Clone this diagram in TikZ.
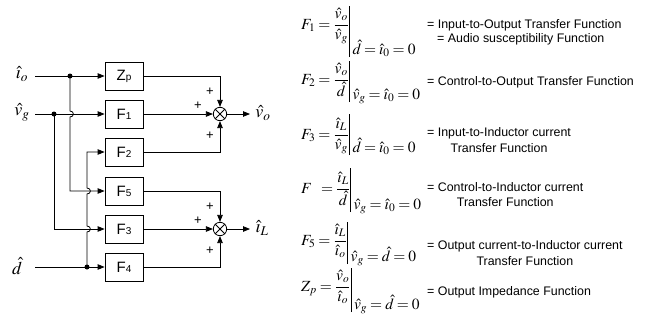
\documentclass[tikz,border=0pt]{standalone}
\usepackage{mathptmx}
\usepackage{fontspec}
\setmainfont{Liberation Serif}
\newfontfamily\arial{Liberation Sans}
\usetikzlibrary{arrows.meta,calc}
\newcommand{\bx}[2]{#1{\fontsize{10}{10}\selectfont #2}}
\newcommand{\dfr}[2]{{\displaystyle\frac{#1}{#2}}}
\thickmuskip=3.5mu\relax
\begin{document}
\begin{tikzpicture}[x=1pt,y=-1pt,
  blk/.style={draw,line width=0.8pt,minimum width=38pt,minimum height=28pt,inner sep=0pt,font=\arial\fontsize{15}{15}\selectfont},
  sig/.style={line width=0.8pt},
  arr/.style={sig,-{Triangle[length=7pt,width=5.5pt]}},
  sum/.style={draw,circle,line width=0.8pt,minimum size=13.4pt,inner sep=0pt},
  dot/.style={circle,fill,inner sep=0pt,minimum size=5pt},
  lab/.style={font=\fontsize{18}{18}\selectfont,inner sep=0pt},
  pm/.style={font=\arial\fontsize{13}{13}\selectfont,inner sep=0pt},
  eq/.style={font=\fontsize{15.5}{18}\selectfont,inner sep=0pt,anchor=base west},
  desc/.style={font=\arial\fontsize{12.4}{14}\selectfont,inner sep=0pt,anchor=west},
  ctr/.style={font=\arial\fontsize{12.4}{14}\selectfont,inner sep=0pt},
]
\useasboundingbox (0,0) rectangle (654,322);
% blocks
\node[blk] (Zp) at (124,76) {\bx{Z}{p}};
\node[blk] (F1) at (124,114) {\bx{F}{1}};
\node[blk] (F2) at (124,152) {\bx{F}{2}};
\node[blk] (F5) at (124,191) {\bx{F}{5}};
\node[blk] (F3) at (124,229) {\bx{F}{3}};
\node[blk] (F4) at (124,267) {\bx{F}{4}};
% inputs
\node[lab] (lio) at (22,74) {$\hat\imath_o$};
\node[lab] (lvg) at (22,112) {$\hat v_g$};
\node[lab] (ld) at (17,266) {$\hat d$};
\coordinate (io) at (35,76);
\coordinate (vg) at (35,114);
\coordinate (din) at (35,267);
\node[dot] (dio) at (70,76) {};
\node[dot] (dvg) at (54,114) {};
\node[dot] (dd) at (87,267) {};
\draw[arr] (io) -- (Zp.west);
\draw[arr] (vg) -- (F1.west);
\draw[arr] (din) -- (F4.west);
\draw[arr] (dio.center) -- (70,111) .. controls (74.5,111) and (74.5,117) .. (70,117) -- (70,191) -- (F5.west);
\draw[arr] (dvg.center) -- (54,229) -- (F3.west);
\draw[arr] (dd.center) -- (87,232) .. controls (91.5,232) and (91.5,226) .. (87,226) -- (87,194) .. controls (91.5,194) and (91.5,188) .. (87,188) -- (87,152) -- (F2.west);
% summing junctions
\node[sum] (s1) at (220,114) {};
\node[sum] (s2) at (220,229) {};
\draw[sig] (s1.45) -- (s1.225) (s1.135) -- (s1.315);
\draw[sig] (s2.45) -- (s2.225) (s2.135) -- (s2.315);
\draw[arr] (Zp.east) -| (s1.north);
\draw[arr] (F1.east) -- (s1.west);
\draw[arr] (F2.east) -| (s1.south);
\draw[arr] (F5.east) -| (s2.north);
\draw[arr] (F3.east) -- (s2.west);
\draw[arr] (F4.east) -| (s2.south);
\node[pm] at (210,92) {+};
\node[pm] at (198,106) {+};
\node[pm] at (210,136) {+};
\node[pm] at (210,207) {+};
\node[pm] at (198,221) {+};
\node[pm] at (210,251) {+};
\coordinate (vo) at (250,114);
\coordinate (iL) at (250,229);
\draw[arr] (s1.east) -- (vo);
\draw[arr] (s2.east) -- (iL);
\node[lab] (lvo) at (263,113) {$\hat v_o$};
\node[lab] (liL) at (262,228) {$\hat\imath_L$};
% equations
\node[eq] (e1) at (301,29) {$F_1=\dfr{\hat v_o}{\hat v_g}\rule[-28pt]{0.6pt}{51pt}\;\raisebox{-25pt}{$\hat d=\hat\imath_0=0$}$};
\node[eq] (e2) at (301,84) {$F_2=\dfr{\hat v_o}{\hat d}\rule[-18pt]{0.6pt}{41pt}\;\raisebox{-15pt}{$\hat v_g=\hat\imath_0=0$}$};
\node[eq] (e3) at (301,139) {$F_3=\dfr{\hat\imath_L}{\hat v_g}\rule[-16pt]{0.6pt}{41pt}\;\raisebox{-13pt}{$\hat d=\hat\imath_0=0$}$};
\node[eq] (e4) at (301,193) {$F\phantom{_4}=\dfr{\hat\imath_L}{\hat d}\rule[-19pt]{0.6pt}{44pt}\;\raisebox{-16pt}{$\hat v_g=\hat\imath_0=0$}$};
\node[eq] (e5) at (301,245) {$F_5=\dfr{\hat\imath_L}{\hat\imath_o}\rule[-19pt]{0.6pt}{42pt}\;\raisebox{-16pt}{$\hat v_g=\hat d=0$}$};
\node[eq] (e6) at (301,291) {$Z_p=\dfr{\hat v_o}{\hat\imath_o}\rule[-21pt]{0.6pt}{44pt}\;\raisebox{-18pt}{$\hat v_g=\hat d=0$}$};
% descriptions
\node[desc] (t1a) at (427,25) {= Input-to-Output Transfer Function};
\node[desc] (t1b) at (437,39) {= Audio susceptibility Function};
\node[desc] (t2) at (427,82) {= Control-to-Output Transfer Function};
\node[desc] (t3a) at (427,133) {= Input-to-Inductor current};
\node[ctr] (t3b) at ($(t3a.center)+(0,15)$) {Transfer Function};
\node[desc] (t4a) at (427,187) {= Control-to-Inductor current};
\node[ctr] (t4b) at ($(t4a.center)+(0,15)$) {Transfer Function};
\node[desc] (t5a) at (427,246) {= Output current-to-Inductor current};
\node[ctr] (t5b) at ($(t5a.center)+(0,15)$) {Transfer Function};
\node[desc] (t6) at (427,292) {= Output Impedance Function};
\end{tikzpicture}
\end{document}
